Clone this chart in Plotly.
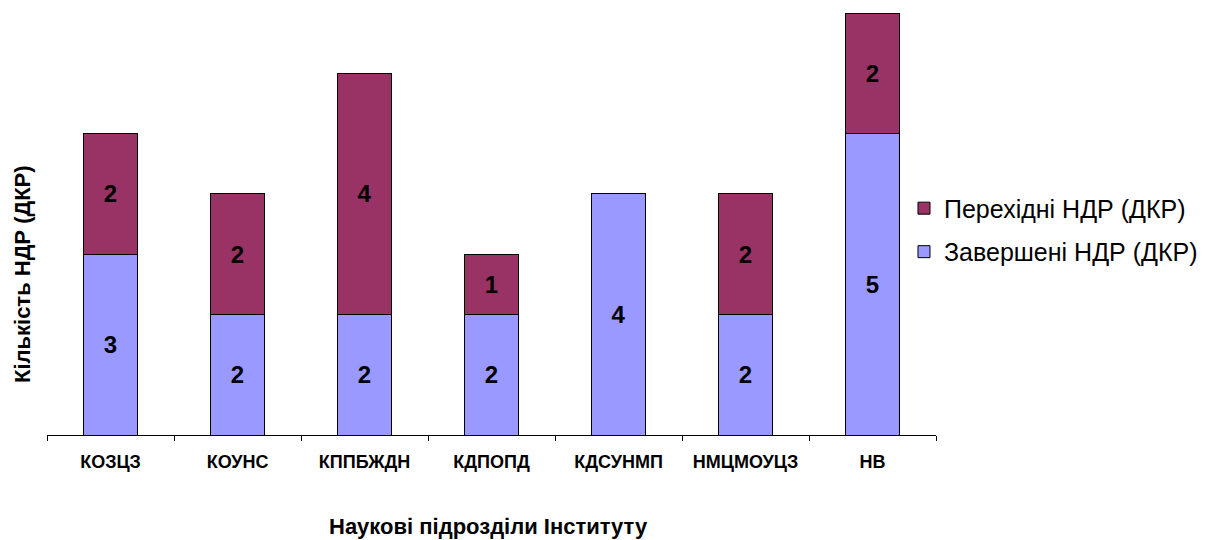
import plotly.graph_objects as go

categories = ["КОЗЦЗ", "КОУНС", "КППБЖДН", "КДПОПД", "КДСУНМП", "НМЦМОУЦЗ", "НВ"]
completed = [3, 2, 2, 2, 4, 2, 5]
transitional = [2, 2, 4, 1, 0, 2, 2]
name_completed = "Завершені НДР (ДКР)"
name_transitional = "Перехідні НДР (ДКР)"
x_title = "Наукові підрозділи Інституту"
y_title = "Кількість НДР (ДКР)"

FONT = "Liberation Sans, Arial, sans-serif"

def labels(vals):
    return [str(v) if v else "" for v in vals]

fig = go.Figure()
fig.add_trace(go.Bar(
    x=categories, y=completed, name=name_completed,
    marker=dict(color="#9999FF", line=dict(color="#000000", width=1)),
    text=labels(completed), textposition="inside", insidetextanchor="middle",
    textfont=dict(family=FONT, size=24, color="#000000", weight="bold"),
    legendgroup="b", legendrank=2, width=0.42,
))
fig.add_trace(go.Bar(
    x=categories, y=transitional, name=name_transitional,
    marker=dict(color="#993366", line=dict(color="#000000", width=1)),
    text=labels(transitional), textposition="inside", insidetextanchor="middle",
    textfont=dict(family=FONT, size=24, color="#000000", weight="bold"),
    legendgroup="a", legendrank=1, width=0.42,
))

fig.update_layout(
    barmode="stack",
    width=1210, height=540,
    margin=dict(l=39, r=282, t=5, b=113),
    paper_bgcolor="white", plot_bgcolor="white",
    font=dict(family=FONT, color="#000000"),
    uniformtext=dict(mode="show", minsize=10),
    showlegend=True,
    legend=dict(
        x=0.964, xanchor="left", y=0.486, yanchor="middle",
        traceorder="grouped", tracegroupgap=8,
        font=dict(family=FONT, size=25, color="#000000"),
        bgcolor="rgba(0,0,0,0)",
    ),
    xaxis=dict(
        showline=True, linecolor="#000000", linewidth=1,
        ticks="outside", tickson="boundaries", ticklen=5, tickcolor="#000000",
        ticklabelstandoff=10,
        tickfont=dict(family=FONT, size=18, color="#000000", weight="bold"),
        showgrid=False, zeroline=False,
    ),
    yaxis=dict(
        range=[0, 7], showline=False, showgrid=False, zeroline=False,
        showticklabels=False, ticks="",
    ),
    annotations=[
        dict(text="<b>" + x_title + "</b>", xref="paper", yref="paper",
             x=0.497, y=-0.218, xanchor="center", yanchor="middle", showarrow=False,
             font=dict(family=FONT, size=22, color="#000000")),
        dict(text="<b>" + y_title + "</b>", xref="paper", yref="paper",
             x=-0.0281, y=0.3815, xanchor="center", yanchor="middle", showarrow=False,
             textangle=-90,
             font=dict(family=FONT, size=22, color="#000000")),
    ],
)

fig.write_html("out.html")
